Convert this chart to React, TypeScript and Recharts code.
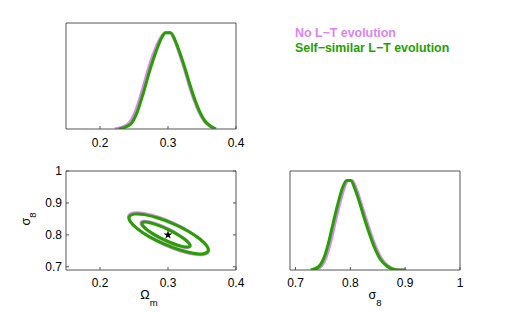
import React from "react";
import { ComposedChart, Line, Scatter, XAxis, YAxis, ZAxis, Label } from "recharts";

// axis ranges and ticks
const omegaRange = [0.15, 0.4];
const sigmaRange = [0.69, 1];
const omegaTicks = [0.2, 0.3, 0.4];
const sigmaTicks = [0.7, 0.8, 0.9, 1];
const densityRange = [0, 1.1];

// 1D posterior of Omega_m
const omNoEvoX = [0.2215, 0.241, 0.252, 0.262, 0.272, 0.2825, 0.2905, 0.296, 0.303, 0.3095, 0.3165, 0.3238, 0.331, 0.3383, 0.3458, 0.3532, 0.3608, 0.37];
const omNoEvoP = [0, 0.05, 0.18, 0.4, 0.645, 0.85, 0.96, 1, 1, 0.925, 0.785, 0.63, 0.456, 0.301, 0.173, 0.083, 0.034, 0];
const omSelfX = [0.2274, 0.2447, 0.2546, 0.2643, 0.2742, 0.2841, 0.2915, 0.2964, 0.3038, 0.3103, 0.3177, 0.325, 0.3324, 0.3397, 0.3471, 0.3544, 0.3618, 0.3706];
const omSelfP = [0, 0.048, 0.173, 0.387, 0.63, 0.837, 0.957, 1, 1, 0.923, 0.785, 0.63, 0.456, 0.301, 0.173, 0.083, 0.034, 0];

// 1D posterior of sigma_8
const s8NoEvoX = [0.732, 0.745, 0.754, 0.763, 0.772, 0.781, 0.789, 0.796, 0.803, 0.811, 0.82, 0.8295, 0.8385, 0.8478, 0.857, 0.869, 0.884, 0.901];
const s8NoEvoP = [0, 0.03, 0.115, 0.285, 0.52, 0.745, 0.915, 0.995, 0.995, 0.9, 0.734, 0.55, 0.384, 0.236, 0.125, 0.044, 0.004, 0];
const s8SelfX = [0.7277, 0.7416, 0.7507, 0.7598, 0.769, 0.7781, 0.7861, 0.7934, 0.8007, 0.8085, 0.8176, 0.8268, 0.8359, 0.845, 0.8541, 0.8663, 0.8815, 0.8997];
const s8SelfP = [0, 0.033, 0.118, 0.291, 0.53, 0.753, 0.919, 0.995, 0.995, 0.9, 0.734, 0.55, 0.384, 0.236, 0.125, 0.044, 0.004, 0];

// 2D contours (outer / inner), points going round each closed curve
const noEvoOuterOm = [0.3608, 0.3533, 0.3379, 0.3169, 0.2933, 0.2709, 0.2531, 0.2425, 0.2408, 0.2483, 0.2637, 0.2847, 0.3083, 0.3307, 0.3485, 0.3591];
const noEvoOuterS8 = [0.745, 0.7364, 0.7381, 0.7497, 0.7695, 0.7945, 0.8209, 0.8446, 0.862, 0.8706, 0.8689, 0.8573, 0.8375, 0.8125, 0.7861, 0.7624];
const noEvoInnerOm = [0.3335, 0.3292, 0.3199, 0.307, 0.2925, 0.2786, 0.2675, 0.2608, 0.2595, 0.2638, 0.2731, 0.286, 0.3005, 0.3144, 0.3255, 0.3322];
const noEvoInnerS8 = [0.763, 0.7592, 0.7619, 0.7706, 0.784, 0.8, 0.8163, 0.8304, 0.84, 0.8438, 0.8411, 0.8324, 0.819, 0.803, 0.7867, 0.7726];
const selfOuterOm = [0.3604, 0.3532, 0.338, 0.3172, 0.2939, 0.2716, 0.254, 0.2434, 0.2416, 0.2488, 0.264, 0.2848, 0.3081, 0.3304, 0.348, 0.3586];
const selfOuterS8 = [0.7476, 0.7394, 0.741, 0.752, 0.7707, 0.7944, 0.8194, 0.8418, 0.8584, 0.8666, 0.865, 0.854, 0.8353, 0.8116, 0.7866, 0.7642];
const selfInnerOm = [0.3332, 0.329, 0.3201, 0.3076, 0.2934, 0.2798, 0.2689, 0.2622, 0.2608, 0.265, 0.2739, 0.2864, 0.3006, 0.3142, 0.3251, 0.3318];
const selfInnerS8 = [0.7639, 0.7607, 0.7637, 0.7723, 0.7853, 0.8007, 0.8161, 0.8293, 0.8381, 0.8413, 0.8383, 0.8297, 0.8167, 0.8013, 0.7859, 0.7727];

const fiducial = [{ x: 0.3, y: 0.8 }];

const VIOLET = "#DA85F0";
const GREEN = "#26A000";
const FRAME = "#555";
const tickFont = { fill: "#000", fontSize: 12 };

const pts = (xs: number[], ys: number[]) => xs.map((x, i) => ({ x, y: ys[i] }));
const blank = () => "";

const OmegaLabel = (props: any) => {
  const { x, y, width } = props.viewBox;
  return (
    <text x={x + width / 2 - 2} y={y + 29} textAnchor="middle" fill="#000" fontSize={12.5}>
      Ω<tspan fontSize={9.5} dy={7}>m</tspan>
    </text>
  );
};

const SigmaLabel = (props: any) => {
  const { x, y, width } = props.viewBox;
  return (
    <text x={x + width / 2} y={y + 29} textAnchor="middle" fill="#000" fontSize={12.5}>
      σ<tspan fontSize={9.5} dy={7}>8</tspan>
    </text>
  );
};

const SigmaYLabel = (props: any) => {
  const { x, y, width, height } = props.viewBox;
  const cx = x + width - 36;
  const cy = y + height / 2 - 1.5;
  return (
    <text transform={`translate(${cx},${cy}) rotate(-90)`} textAnchor="middle" fill="#000" fontSize={12.5}>
      σ<tspan fontSize={9.5} dy={6}>8</tspan>
    </text>
  );
};

export default function App() {
  return (
    <div
      style={{
        position: "absolute",
        left: 0,
        top: 0,
        width: 507,
        height: 312,
        background: "#fff",
        fontFamily: "'Liberation Sans', Arial, sans-serif",
      }}
    >
      {/* Omega_m marginal */}
      <div style={{ position: "absolute", left: 0, top: 0 }}>
        <ComposedChart width={260} height={150} margin={{ top: 22, right: 23, bottom: 0, left: 65 }}>
          <XAxis xAxisId="b" type="number" dataKey="x" domain={omegaRange} ticks={omegaTicks} interval={0} height={21} tickSize={-3} tickMargin={12} stroke={FRAME} tick={tickFont} allowDataOverflow />
          <XAxis xAxisId="t" orientation="top" type="number" domain={omegaRange} ticks={omegaTicks} interval={0} height={1} tickSize={-3} tickFormatter={blank} stroke={FRAME} allowDataOverflow />
          <YAxis yAxisId="l" type="number" dataKey="y" domain={densityRange} width={1} tickFormatter={blank} tickLine={false} stroke={FRAME} allowDataOverflow />
          <YAxis yAxisId="r" orientation="right" type="number" domain={densityRange} width={1} tickFormatter={blank} tickLine={false} stroke={FRAME} allowDataOverflow />
          <Line xAxisId="b" yAxisId="l" data={pts(omNoEvoX, omNoEvoP)} dataKey="y" type="monotone" stroke={VIOLET} strokeWidth={3} dot={false} activeDot={false} isAnimationActive={false} />
          <Line xAxisId="b" yAxisId="l" data={pts(omSelfX, omSelfP)} dataKey="y" type="monotone" stroke={GREEN} strokeWidth={3} dot={false} activeDot={false} isAnimationActive={false} />
        </ComposedChart>
      </div>

      {/* Omega_m vs sigma_8 contours */}
      <div style={{ position: "absolute", left: 0, top: 150 }}>
        <ComposedChart width={260} height={162} margin={{ top: 20, right: 23, bottom: 21, left: 65 }}>
          <XAxis xAxisId="b" type="number" dataKey="x" domain={omegaRange} ticks={omegaTicks} interval={0} height={21} tickSize={-3} tickMargin={11} stroke={FRAME} tick={tickFont} allowDataOverflow>
            <Label content={OmegaLabel} />
          </XAxis>
          <XAxis xAxisId="t" orientation="top" type="number" domain={omegaRange} ticks={omegaTicks} interval={0} height={1} tickSize={-3} tickFormatter={blank} stroke={FRAME} allowDataOverflow />
          <YAxis yAxisId="l" type="number" dataKey="y" domain={sigmaRange} ticks={sigmaTicks} interval={0} width={1} tickSize={-3} tickMargin={7} stroke={FRAME} tick={tickFont} allowDataOverflow>
            <Label content={SigmaYLabel} />
          </YAxis>
          <YAxis yAxisId="r" orientation="right" type="number" domain={sigmaRange} ticks={sigmaTicks} interval={0} width={1} tickSize={-3} tickFormatter={blank} stroke={FRAME} allowDataOverflow />
          <ZAxis range={[24, 24]} />
          <Line xAxisId="b" yAxisId="l" data={pts(noEvoOuterOm, noEvoOuterS8)} dataKey="y" type="basisClosed" stroke={VIOLET} strokeWidth={3} dot={false} activeDot={false} isAnimationActive={false} />
          <Line xAxisId="b" yAxisId="l" data={pts(noEvoInnerOm, noEvoInnerS8)} dataKey="y" type="basisClosed" stroke={VIOLET} strokeWidth={3} dot={false} activeDot={false} isAnimationActive={false} />
          <Line xAxisId="b" yAxisId="l" data={pts(selfOuterOm, selfOuterS8)} dataKey="y" type="basisClosed" stroke={GREEN} strokeWidth={3} dot={false} activeDot={false} isAnimationActive={false} />
          <Line xAxisId="b" yAxisId="l" data={pts(selfInnerOm, selfInnerS8)} dataKey="y" type="basisClosed" stroke={GREEN} strokeWidth={3} dot={false} activeDot={false} isAnimationActive={false} />
          <Scatter xAxisId="b" yAxisId="l" data={fiducial} shape="star" fill="#000" isAnimationActive={false} />
        </ComposedChart>
      </div>

      {/* sigma_8 marginal */}
      <div style={{ position: "absolute", left: 260, top: 150 }}>
        <ComposedChart width={247} height={162} margin={{ top: 20, right: 46, bottom: 21, left: 29 }}>
          <XAxis xAxisId="b" type="number" dataKey="x" domain={sigmaRange} ticks={sigmaTicks} interval={0} height={21} tickSize={-3} tickMargin={11} stroke={FRAME} tick={tickFont} allowDataOverflow>
            <Label content={SigmaLabel} />
          </XAxis>
          <XAxis xAxisId="t" orientation="top" type="number" domain={sigmaRange} ticks={sigmaTicks} interval={0} height={1} tickSize={-3} tickFormatter={blank} stroke={FRAME} allowDataOverflow />
          <YAxis yAxisId="l" type="number" dataKey="y" domain={densityRange} width={1} tickFormatter={blank} tickLine={false} stroke={FRAME} allowDataOverflow />
          <YAxis yAxisId="r" orientation="right" type="number" domain={densityRange} width={1} tickFormatter={blank} tickLine={false} stroke={FRAME} allowDataOverflow />
          <Line xAxisId="b" yAxisId="l" data={pts(s8NoEvoX, s8NoEvoP)} dataKey="y" type="monotone" stroke={VIOLET} strokeWidth={3} dot={false} activeDot={false} isAnimationActive={false} />
          <Line xAxisId="b" yAxisId="l" data={pts(s8SelfX, s8SelfP)} dataKey="y" type="monotone" stroke={GREEN} strokeWidth={3} dot={false} activeDot={false} isAnimationActive={false} />
        </ComposedChart>
      </div>

      {/* legend */}
      <div
        style={{
          position: "absolute",
          left: 295,
          top: 25.5,
          fontSize: 12.4,
          lineHeight: "15px",
          fontWeight: "bold",
          whiteSpace: "nowrap",
        }}
      >
        <div style={{ color: VIOLET }}>No L−T evolution</div>
        <div style={{ color: GREEN }}>Self−similar L−T evolution</div>
      </div>
    </div>
  );
}
